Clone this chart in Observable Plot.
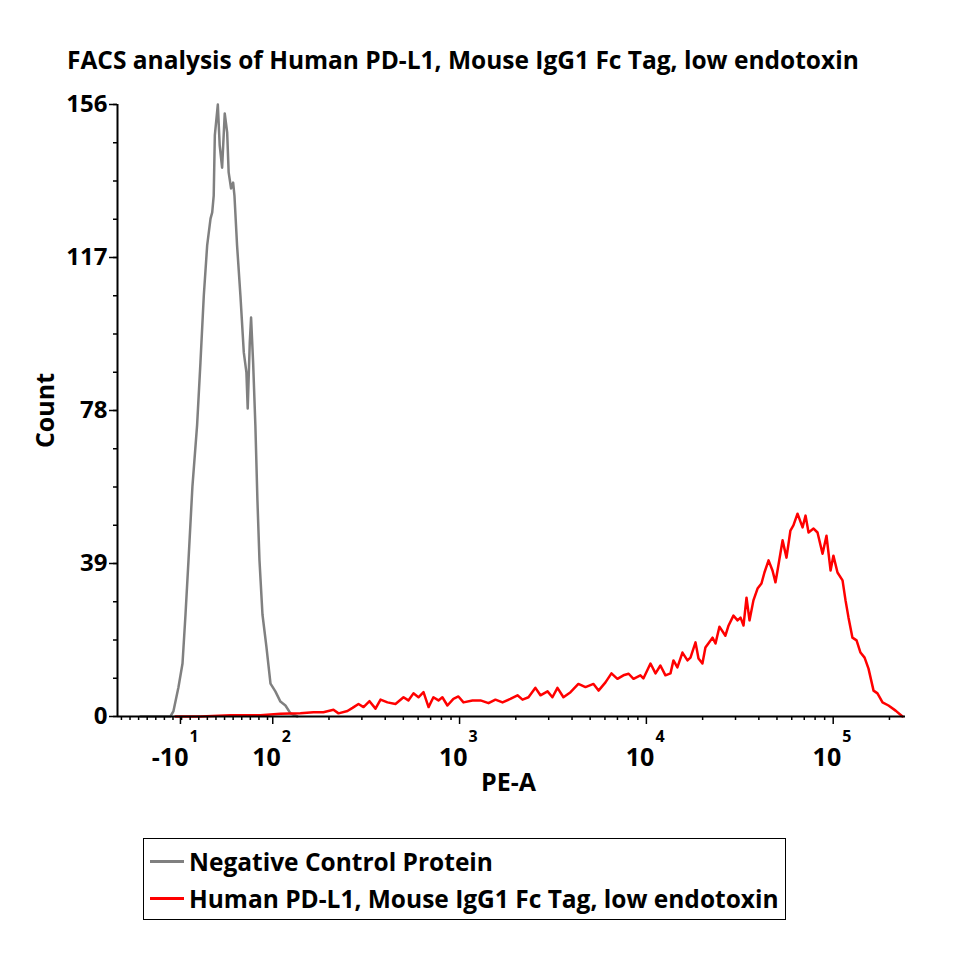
<!DOCTYPE html>
<html><head><meta charset="utf-8">
<script src="https://cdn.jsdelivr.net/npm/d3@7"></script>
<script src="https://cdn.jsdelivr.net/npm/@observablehq/plot@0.6"></script>
<style>
body{margin:0;background:#fff;}
#wrap{position:relative;width:960px;height:960px;font-family:"Open Sans",sans-serif;font-weight:bold;color:#000;}
#chart{position:absolute;left:0;top:0;}
#title{position:absolute;left:67px;top:46px;font-size:24.5px;line-height:28px;white-space:nowrap;}
#legend{position:absolute;left:143px;top:838px;width:641px;height:80px;border:1px solid #000;}
.row{position:absolute;left:6px;height:30px;display:flex;align-items:center;font-size:24.5px;white-space:nowrap;}
.sw{width:34px;height:3px;margin-right:5px;}
</style></head>
<body>
<div id="wrap"><div id="chart"></div><div id="title"></div><div id="legend"></div></div>
<script>
// x values are display positions on the biexponential PE-A axis, expressed in decades
const negX = [1.292,1.452,1.468,1.495,1.517,1.533,1.549,1.570,1.595,1.613,1.631,1.649,1.667,1.676,1.684,1.690,1.706,1.716,1.729,1.743,1.756,1.764,1.777,1.788,1.795,1.809,1.827,1.845,1.859,1.866,1.877,1.884,1.895,1.907,1.918,1.929,1.945,1.966,1.988,2.014,2.041,2.068,2.095,2.132];
const negCount = [0,0,1.3,7.4,13.5,26.0,39.8,58.6,74.2,90.2,107.3,120.1,126.9,128.5,132.8,148.1,156.0,145.6,139.9,153.7,148.9,138.7,134.6,136.1,132.8,120.1,107.3,92.8,87.7,78.5,95.3,101.7,90.2,74.2,55.1,39.8,26.0,17.8,8.4,6.4,3.8,2.8,0.8,0];
const posX = [1.479,1.613,1.774,1.934,2.041,2.148,2.218,2.271,2.325,2.352,2.400,2.427,2.459,2.486,2.518,2.550,2.577,2.614,2.657,2.700,2.726,2.753,2.780,2.807,2.834,2.860,2.887,2.908,2.935,2.967,2.994,3.021,3.069,3.112,3.155,3.192,3.230,3.272,3.310,3.337,3.369,3.406,3.433,3.471,3.497,3.524,3.556,3.594,3.636,3.674,3.717,3.744,3.781,3.813,3.845,3.877,3.905,3.931,
  3.968,3.984,4.022,4.049,4.075,4.102,4.129,4.145,4.166,4.193,4.220,4.236,4.263,4.279,4.300,4.316,4.354,4.370,4.391,4.423,4.440,4.466,4.488,4.504,4.520,4.536,4.552,4.573,4.595,4.616,4.632,4.654,4.675,4.691,4.702,4.729,4.750,4.771,4.787,4.809,4.836,4.852,4.868,4.895,4.916,4.943,4.964,4.986,5.001,5.023,5.050,5.066,5.082,5.103,5.125,5.146,5.168,5.189,5.216,5.237,5.264,5.296,5.334,5.371];
const posCount = [0,0,0.3,0.3,0.7,0.8,1.1,1.1,1.7,0.8,1.4,2.2,3.2,2.4,3.9,2.0,4.3,3.6,3.2,4.9,4.1,5.9,4.9,6.2,2.4,4.9,4.1,4.9,2.8,4.5,5.1,3.6,4.1,4.1,3.4,4.3,3.6,4.5,5.4,4.3,4.9,7.3,5.4,6.4,4.9,7.3,4.9,6.2,8.3,7.5,8.3,6.6,8.7,11.0,9.6,10.5,10.9,9.6,
  10.5,9.7,13.5,11.0,13.0,10.5,11.0,14.3,12.5,16.3,14.3,15.0,18.9,14.8,13.5,17.6,20.1,18.6,22.9,20.6,23.2,25.7,24.5,25.2,23.2,30.3,24.5,29.6,32.6,33.9,36.7,39.8,37.2,34.2,37.2,44.9,40.5,47.4,48.7,51.7,48.2,51.2,46.9,47.9,46.9,41.5,46.1,37.2,41.0,36.7,34.7,29.6,25.2,20.1,19.4,16.3,15.0,12.2,6.6,5.9,3.6,2.8,1.5,0];

const seriesNames = ["Negative Control Protein", "Human PD-L1, Mouse IgG1 Fc Tag, low endotoxin"];
const seriesColors = ["#808080", "#ff0000"];
const titleText = "FACS analysis of Human PD-L1, Mouse IgG1 Fc Tag, low endotoxin";
const xLabel = "PE-A";
const yLabel = "Count";

const xMajorPos = [1.506, 2, 3, 4, 5];
const xMajorBase = ["-10", "10", "10", "10", "10"];
const xMajorExp = ["1", "2", "3", "4", "5"];
const yMajor = [0, 39, 78, 117, 156];
const yMinor = d3.range(0, 156.01, 9.75);
const xDomain = [1.169, 5.387];

const xMinor = d3.range(1.19, 1.99, 0.046).concat(
  [2, 3, 4, 5].flatMap(n => d3.range(2, 10).map(k => n + Math.log10(k))).filter(v => v <= xDomain[1])
);

const negData = negX.map((x, i) => ({x, y: negCount[i]}));
const posData = posX.map((x, i) => ({x, y: posCount[i]}));
const xTickData = xMajorPos.map((p, i) => ({p, base: xMajorBase[i], exp: xMajorExp[i]}));

const chart = Plot.plot({
  width: 960, height: 800,
  marginLeft: 117, marginRight: 55, marginTop: 104, marginBottom: 84,
  x: {type: "linear", domain: xDomain},
  y: {domain: [0, 156]},
  style: {fontFamily: "Open Sans, sans-serif", background: "#fff", color: "#000"},
  marks: [
    Plot.line(negData, {x: "x", y: "y", stroke: seriesColors[0], strokeWidth: 2.5}),
    Plot.line(posData, {x: "x", y: "y", stroke: seriesColors[1], strokeWidth: 2.5}),
    Plot.axisX({ticks: xMajorPos, tickSize: 8, strokeWidth: 1.5, tickFormat: () => "", label: null}),
    Plot.axisX({ticks: xMinor, tickSize: 4, strokeWidth: 1.5, tickFormat: () => "", label: null}),
    Plot.axisY({ticks: yMajor, tickSize: 8, strokeWidth: 1.5, tickPadding: 2, fontSize: 24, fontWeight: "bold", label: null}),
    Plot.axisY({ticks: yMinor, tickSize: 4, strokeWidth: 1.5, tickFormat: () => "", label: null}),
    Plot.ruleY([0], {stroke: "#000", strokeWidth: 2}),
    Plot.ruleX([xDomain[0]], {stroke: "#000", strokeWidth: 2}),
    Plot.text(xTickData, {x: "p", frameAnchor: "bottom", text: "base", textAnchor: "end", dx: 8, dy: 49, fontSize: 25, fontWeight: "bold"}),
    Plot.text(xTickData, {x: "p", frameAnchor: "bottom", text: "exp", textAnchor: "start", dx: 9, dy: 25, fontSize: 16, fontWeight: "bold"}),
    Plot.text([xLabel], {frameAnchor: "bottom", dx: -3, dy: 74, fontSize: 25, fontWeight: "bold"}),
    Plot.text([yLabel], {frameAnchor: "left", textAnchor: "middle", rotate: -90, dx: -72, fontSize: 25, fontWeight: "bold"})
  ]
});
document.getElementById("chart").appendChild(chart);
document.getElementById("title").textContent = titleText;

const legend = document.getElementById("legend");
seriesNames.forEach((name, i) => {
  const row = document.createElement("div");
  row.className = "row";
  row.style.top = (i === 0 ? 7 : 44) + "px";
  const sw = document.createElement("div");
  sw.className = "sw";
  sw.style.background = seriesColors[i];
  const t = document.createElement("span");
  t.textContent = name;
  row.appendChild(sw); row.appendChild(t);
  legend.appendChild(row);
});
</script>
</body></html>
